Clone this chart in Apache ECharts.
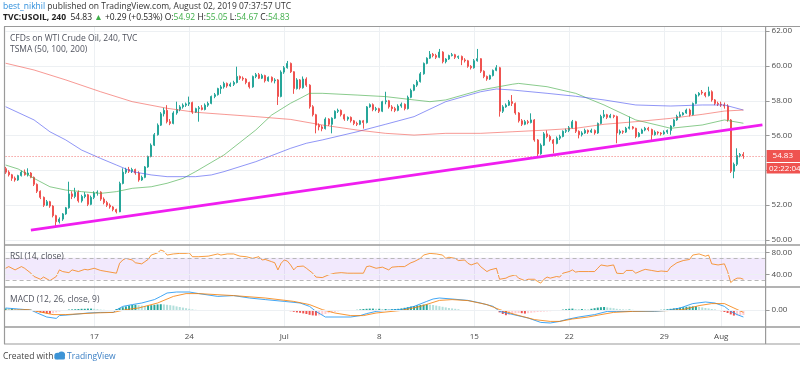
<!DOCTYPE html>
<html>
<head>
<meta charset="utf-8">
<script src="https://cdn.jsdelivr.net/npm/echarts@6.0.0/dist/echarts.min.js"></script>
<style>html,body{margin:0;padding:0;background:#fff;}#c{width:800px;height:368px;}</style>
</head>
<body>
<div id="c"></div>
<script>
// ---------- DATA ----------
const tickIndex = [28, 58, 88, 118, 148, 178, 208, 226];
const tickLabels = ['17', '24', 'Jul', '8', '15', '22', '29', 'Aug'];
const priceTicks = [50, 52, 54, 56, 58, 60, 62];
const rsiTicks = [40, 80];
const macdTicks = [0];
const lastPrice = 54.83;
const countdown = '02:22:04';

// [open, close, low, high] per 4h bar
const candles = [
[54.10,53.90,53.80,54.20],[53.90,53.75,53.65,54.00],[53.75,53.55,53.40,53.80],[53.55,53.45,53.35,53.65],
[53.45,53.70,53.40,53.75],[53.70,53.90,53.65,54.00],[53.90,53.75,53.70,54.05],[53.75,53.85,53.65,54.12],
[53.85,53.60,53.55,53.90],[53.60,53.20,53.10,53.65],[53.20,52.80,52.70,53.25],[52.80,52.45,52.35,52.85],
[52.45,52.00,51.90,52.50],[52.00,52.20,51.95,52.30],[52.20,51.95,51.85,52.25],[51.95,51.40,51.30,52.00],
[51.40,51.05,50.77,51.45],[51.05,51.20,50.95,51.30],[51.20,51.50,51.10,51.55],[51.50,51.85,51.45,51.90],
[51.85,52.65,51.80,53.35],[52.65,52.50,52.35,52.80],[52.50,52.75,52.40,53.00],[52.75,52.25,52.15,52.85],
[52.25,52.50,52.15,52.60],[52.50,52.60,52.40,52.75],[52.60,52.05,51.95,52.65],[52.05,52.45,52.00,52.55],
[52.45,52.70,52.35,52.80],[52.70,52.75,52.55,52.85],[52.75,52.35,52.25,52.80],[52.35,52.15,52.05,52.45],
[52.15,52.00,51.90,52.25],[52.00,51.90,51.80,52.10],[51.90,51.75,51.65,51.95],[51.75,51.62,51.53,51.80],
[51.62,53.25,51.60,53.35],[53.25,53.90,53.20,54.12],[53.90,54.05,53.80,54.15],[54.05,53.95,53.85,54.20],
[53.95,54.05,53.85,54.15],[54.05,53.85,53.75,54.10],[53.85,53.45,53.35,53.95],[53.45,53.60,53.40,53.70],
[53.60,54.20,53.55,54.25],[54.20,54.80,54.15,54.85],[54.80,55.45,54.75,55.55],[55.45,56.05,55.40,56.15],
[56.05,56.60,56.00,56.70],[56.60,57.25,56.55,57.35],[57.25,57.45,57.10,57.60],[57.45,56.80,56.70,57.75],
[56.80,56.70,56.60,56.95],[56.70,57.30,56.65,57.40],[57.30,57.50,57.20,57.95],[57.50,57.65,57.40,57.75],
[57.65,57.75,57.55,57.85],[57.75,57.82,57.65,57.90],[57.82,57.90,57.70,58.24],[57.90,57.35,57.25,57.95],
[57.35,57.55,57.30,57.60],[57.55,57.60,56.80,57.70],[57.60,57.50,57.45,57.75],[57.50,57.75,57.45,57.85],
[57.75,57.85,57.65,57.95],[57.85,58.25,57.80,58.30],[58.25,58.35,58.15,58.45],[58.35,58.70,58.30,58.75],
[58.70,58.80,58.40,58.90],[58.80,59.00,58.70,59.10],[59.00,58.85,58.75,59.05],[58.85,58.95,58.80,59.05],
[58.95,59.05,58.85,59.15],[59.05,59.40,59.00,59.96],[59.40,59.30,59.20,59.45],[59.30,59.25,59.15,59.40],
[59.25,59.05,58.95,59.30],[59.05,58.80,58.70,59.10],[58.80,59.40,58.75,59.45],[59.40,59.50,59.30,59.60],
[59.50,59.30,59.25,59.60],[59.30,59.45,59.25,59.55],[59.45,59.15,59.05,59.50],[59.15,59.35,59.10,59.40],
[59.35,59.15,59.05,59.40],[59.15,59.20,59.00,59.30],[59.20,58.25,57.76,59.25],[58.25,59.65,58.20,59.75],
[59.65,59.90,59.55,60.00],[59.90,60.15,59.85,60.29],[60.15,59.67,59.60,60.20],[59.67,58.70,58.40,59.70],
[58.70,59.20,58.65,59.30],[59.20,58.75,58.65,59.25],[58.75,59.25,58.70,59.40],[59.25,58.90,58.80,59.35],
[58.90,57.66,57.55,58.95],[57.66,57.20,57.10,57.75],[57.20,56.60,56.13,57.25],[56.60,56.50,56.30,56.70],
[56.50,56.40,56.25,56.60],[56.40,56.95,56.35,57.05],[56.95,56.65,56.55,57.00],[56.65,57.00,56.13,57.05],
[57.00,57.40,56.95,57.45],[57.40,57.45,57.30,57.55],[57.45,57.20,57.10,57.50],[57.20,56.95,56.85,57.25],
[56.95,57.05,56.85,57.10],[57.05,56.85,56.75,57.10],[56.85,56.70,56.60,56.90],[56.70,56.65,56.55,56.80],
[56.65,56.85,56.60,56.90],[56.85,56.75,56.40,56.90],[56.75,57.65,56.70,57.70],[57.65,57.78,57.60,57.85],
[57.78,57.50,57.40,57.85],[57.50,57.55,57.40,57.65],[57.55,57.40,57.30,57.60],[57.40,57.95,57.35,58.00],
[57.95,58.00,57.80,58.52],[58.00,57.65,57.55,58.05],[57.65,57.55,57.40,57.75],[57.55,57.45,57.35,57.65],
[57.45,57.70,57.40,57.80],[57.70,57.80,57.60,57.90],[57.80,57.55,57.45,57.85],[57.55,58.20,57.50,58.30],
[58.20,58.60,58.15,58.70],[58.60,58.90,58.55,58.95],[58.90,59.10,58.80,59.20],[59.10,59.55,59.05,59.65],
[59.55,60.15,59.50,60.20],[60.15,60.45,60.10,60.50],[60.45,60.67,60.40,60.86],[60.67,60.60,60.50,60.75],
[60.60,60.50,60.40,60.70],[60.50,60.80,60.45,60.98],[60.80,60.25,60.15,60.85],[60.25,60.40,60.15,60.45],
[60.40,60.60,60.35,60.65],[60.60,60.65,60.55,60.75],[60.65,60.50,60.40,60.70],[60.50,60.55,60.40,60.60],
[60.55,60.35,60.05,60.60],[60.35,60.30,60.20,60.45],[60.30,59.98,59.90,60.35],[59.98,59.90,59.80,60.05],
[59.90,60.30,59.85,60.40],[60.30,60.42,60.25,60.98],[60.42,59.70,59.60,60.45],[59.70,59.40,59.30,59.75],
[59.40,59.25,59.15,59.45],[59.25,59.45,59.20,59.50],[59.45,59.75,59.40,59.80],[59.75,59.90,59.70,60.05],
[59.90,57.40,57.09,59.95],[57.40,57.65,57.30,57.75],[57.65,57.75,57.60,57.85],[57.75,57.95,57.70,58.05],
[57.95,57.85,57.70,58.33],[57.85,57.30,57.20,57.90],[57.30,56.85,56.75,57.35],[56.85,56.65,56.55,56.95],
[56.65,56.80,56.60,56.90],[56.80,56.75,56.65,56.90],[56.75,56.90,56.70,57.28],[56.90,55.75,55.65,56.95],
[55.75,54.95,54.79,55.80],[54.95,55.45,54.90,55.55],[55.45,56.10,55.40,56.20],[56.10,55.95,55.85,56.30],
[55.95,55.75,55.65,56.05],[55.75,55.55,54.98,55.80],[55.55,55.85,55.50,55.95],[55.85,55.95,55.75,56.05],
[55.95,56.25,55.90,56.30],[56.25,56.30,56.15,56.40],[56.30,56.45,56.20,56.55],[56.45,56.80,56.40,56.90],
[56.80,56.25,56.15,56.85],[56.25,56.05,55.84,56.30],[56.05,56.15,55.95,56.25],[56.15,56.30,56.10,56.40],
[56.30,56.20,56.10,56.35],[56.20,56.30,56.15,56.40],[56.30,56.15,56.05,56.35],[56.15,56.70,56.10,56.75],
[56.70,57.10,56.65,57.20],[57.10,57.20,57.00,57.47],[57.20,57.05,56.95,57.25],[57.05,57.15,57.00,57.25],
[57.15,57.10,57.00,57.20],[57.10,56.15,55.56,57.15],[56.15,56.25,56.05,56.35],[56.25,56.20,56.10,56.30],
[56.20,56.42,56.15,56.50],[56.42,56.50,56.35,57.09],[56.50,56.42,56.35,56.55],[56.42,55.95,55.85,56.45],
[55.95,56.13,55.90,56.20],[56.13,56.32,56.10,56.40],[56.32,56.42,56.25,56.50],[56.42,56.35,56.25,56.50],
[56.35,56.05,55.75,56.40],[56.05,56.20,56.00,56.30],[56.20,56.15,56.05,56.25],[56.15,56.10,56.00,56.20],
[56.10,56.20,56.05,56.30],[56.20,56.30,56.10,56.35],[56.30,56.55,56.05,56.60],[56.55,56.90,56.50,56.95],
[56.90,57.10,56.85,57.20],[57.10,57.20,57.05,57.38],[57.20,57.30,57.15,57.35],[57.30,57.47,57.25,57.55],
[57.47,57.20,57.10,57.55],[57.20,57.85,57.15,57.90],[57.85,58.33,57.80,58.40],[58.33,58.43,58.25,58.50],
[58.50,58.45,58.35,58.62],[58.45,58.30,58.20,58.50],[58.30,58.52,58.25,58.81],[58.52,58.05,57.95,58.60],
[58.05,57.85,57.75,58.10],[57.85,57.80,57.70,57.95],[57.80,57.76,57.65,57.95],[57.76,57.70,57.55,57.90],
[57.70,56.90,56.80,57.80],[56.90,53.95,53.85,56.95],[53.95,54.35,53.55,54.45],[54.35,54.85,54.25,55.27],
[54.85,54.92,54.75,55.00],[54.92,54.83,54.67,55.05]
];

// moving averages: [bar index, value]
const sma50 = [[0,54.31],[4,54.08],[9,53.54],[14,53.06],[19,52.87],[24,52.78],[30,52.68],[35,52.78],[40,52.97],[46,53.06],[51,53.26],[56,53.54],[60,53.93],[69,54.89],[79,56.32],[84,57.18],[90,57.86],[93,58.14],[96,58.43],[100,58.43],[111,58.33],[120,58.24],[129,58.05],[134,57.95],[139,58.05],[150,58.62],[160,58.95],[162,59.0],[171,58.81],[180,58.43],[189,57.76],[199,56.90],[208,56.51],[210,56.42],[220,56.61],[227,56.90],[233,56.71]];
const sma100 = [[0,57.66],[9,56.9],[14,56.22],[19,55.75],[24,55.17],[30,54.69],[35,54.31],[40,53.93],[46,53.74],[51,53.64],[60,53.64],[65,53.74],[69,53.93],[79,54.5],[90,55.27],[95,55.56],[100,55.75],[111,56.22],[120,56.65],[129,57.09],[139,57.95],[150,58.52],[155,58.68],[160,58.62],[171,58.43],[180,58.26],[189,58.05],[199,57.76],[210,57.70],[220,57.76],[227,57.76],[233,57.47]];
const sma200 = [[0,60.16],[9,59.77],[19,59.2],[30,58.52],[40,57.95],[51,57.57],[60,57.34],[69,57.22],[79,57.09],[90,56.93],[100,56.61],[111,56.32],[120,56.13],[129,56.03],[139,56.13],[150,56.13],[160,56.22],[171,56.32],[180,56.42],[189,56.65],[199,56.80],[210,56.99],[220,57.22],[227,57.41],[233,57.47]];
const trendLine = [[8,50.57],[239,56.62]];

const rsi = [[0,51],[1,54],[3,48],[5,54],[6,51],[8,42],[9,36],[11,31],[12,35],[14,28.5],[16,36],[17,48],[18,45],[20,43],[21,48],[23,45],[25,49],[26,48],[28,51],[30,47],[32,45],[35,42],[36,60],[37,66],[38,69],[40,66],[41,61],[43,59],[44,63],[45,67],[46,75],[48,79],[49,84],[50,82],[51,75],[53,77],[55,78],[57,78],[58,79],[59,72],[61,72],[64,73],[67,77],[68,75],[70,77],[72,77],[74,73],[76,72],[78,69],[80,72],[81,66],[82,67],[84,63],[85,61],[86,48],[87,60],[88,66],[89,64],[90,57],[91,48],[92,54],[94,55],[95,51],[97,42],[98,35],[100,34],[102,39],[104,42],[106,43],[108,42],[110,42],[113,42],[114,54],[115,55],[117,51],[119,53],[121,48],[122,53],[124,54],[126,54],[128,61],[129,63],[131,69],[132,75],[134,78],[136,77],[138,75],[139,69],[140,71],[142,69],[143,65],[145,66],[146,60],[147,57],[149,61],[150,54],[152,45],[153,48],[155,51],[156,31],[158,33],[159,36],[161,39],[162,33],[164,28.5],[165,31],[167,31],[168,27],[169,24],[170,31],[171,35],[172,33],[174,36],[175,35],[176,42],[178,45],[179,48],[180,44],[181,45],[184,45],[186,45],[187,51],[188,57],[190,55],[192,57],[193,42],[195,41],[196,47],[198,47],[199,42],[201,47],[202,49],[204,47],[206,45],[207,46],[209,45],[210,53],[212,61],[214,65],[216,67],[217,75],[219,77],[220,75],[221,73],[222,75],[223,59],[225,57],[227,59],[228,45],[229,25],[230,30],[231,33],[232,33],[233,31]];

const macdLine = [[0,0.10],[4,0.05],[8,0.0],[10,-0.15],[13,-0.35],[16,-0.42],[17,-0.28],[21,-0.23],[26,-0.15],[30,-0.12],[34,-0.12],[35,0.0],[37,0.18],[40,0.27],[43,0.35],[47,0.52],[49,0.68],[51,0.85],[54,0.9],[58,0.9],[61,0.82],[67,0.68],[72,0.72],[77,0.6],[82,0.52],[88,0.43],[93,0.35],[96,0.18],[98,-0.07],[101,-0.35],[104,-0.35],[109,-0.35],[112,-0.28],[114,-0.18],[117,-0.07],[120,-0.02],[125,0.02],[129,0.18],[133,0.43],[135,0.55],[137,0.6],[141,0.55],[146,0.48],[150,0.35],[154,0.18],[156,-0.07],[159,-0.18],[165,-0.4],[169,-0.62],[172,-0.65],[175,-0.57],[177,-0.48],[181,-0.35],[186,-0.23],[190,-0.07],[193,-0.07],[198,-0.07],[205,-0.07],[209,-0.02],[213,0.1],[217,0.32],[221,0.4],[224,0.35],[227,0.18],[229,-0.07],[231,-0.23],[233,-0.35]];
const signalLine = [[0,-0.02],[7,0.02],[10,-0.07],[15,-0.23],[19,-0.23],[28,-0.15],[34,-0.12],[38,0.02],[42,0.1],[48,0.35],[53,0.68],[57,0.82],[61,0.82],[72,0.72],[82,0.6],[91,0.43],[96,0.27],[100,0.02],[104,-0.15],[109,-0.28],[113,-0.28],[117,-0.15],[125,-0.02],[131,0.18],[137,0.48],[141,0.52],[146,0.47],[152,0.27],[156,0.02],[161,-0.23],[167,-0.48],[172,-0.57],[175,-0.57],[179,-0.45],[184,-0.35],[188,-0.23],[192,-0.12],[198,-0.07],[209,-0.03],[214,0.02],[219,0.22],[223,0.32],[227,0.32],[230,0.1],[233,-0.12]];
const macdHist = [
0.08,0.07,0.07,0.06,0.05,0.04,0.03,0.02,0.01,
-0.04,-0.08,-0.12,-0.15,-0.17,-0.18,-0.16,
-0.12,-0.08,-0.05,-0.02,
0.02,0.03,0.04,0.05,0.06,0.06,0.07,0.07,0.06,
0.04,0.02,0.01,-0.01,-0.02,-0.01,
0.05,0.10,0.14,0.18,0.22,0.25,0.26,0.24,0.22,0.20,0.21,0.24,
0.26,0.28,0.29,0.28,0.26,0.24,0.22,
0.18,0.15,0.12,0.09,0.06,0.03,0.01,
-0.01,-0.02,-0.03,-0.03,-0.02,-0.02,-0.01,-0.01,
-0.01,-0.01,0.0,0.0,-0.01,
-0.03,-0.04,-0.04,-0.03,-0.02,
-0.01,-0.01,-0.01,
-0.03,-0.04,-0.04,-0.03,-0.05,
-0.04,-0.03,-0.04,
-0.06,-0.09,-0.12,-0.14,-0.17,-0.20,-0.24,-0.27,-0.28,-0.27,
-0.24,-0.20,-0.16,-0.13,-0.10,-0.07,-0.05,-0.03,-0.02,
-0.01,0.0,0.01,
0.03,0.05,0.06,0.07,0.07,0.06,0.06,0.05,0.05,0.04,0.04,0.05,0.06,
0.08,0.11,0.14,0.17,0.20,0.23,0.25,0.27,0.28,0.27,0.25,
0.22,0.19,0.16,0.13,0.10,0.08,0.06,0.04,
-0.01,-0.02,-0.03,-0.03,-0.04,-0.05,-0.05,-0.04,-0.03,-0.03,-0.04,-0.05,
-0.12,-0.20,-0.26,-0.25,
-0.20,-0.17,-0.15,
-0.16,-0.18,-0.16,
-0.14,-0.12,-0.10,-0.09,-0.08,-0.07,-0.06,-0.05,-0.04,-0.03,
0.02,0.04,0.06,0.07,0.05,0.04,0.05,0.04,0.03,
0.06,0.09,0.12,0.14,0.15,0.13,
0.11,0.09,0.06,0.04,0.03,
0.02,0.02,0.01,
-0.01,-0.02,-0.02,-0.01,0.0,-0.01,-0.02,-0.01,0.01,0.02,
0.04,0.06,0.08,0.10,0.12,0.14,0.16,0.17,0.18,0.18,
0.16,0.13,0.10,0.08,0.05,0.03,
-0.03,-0.06,-0.10,-0.15,-0.22,-0.28,-0.27,-0.26,-0.25
];

// ---------- CHART ----------
const FONT = '"Open Sans", "Liberation Sans", sans-serif';
const UP = '#26a69a', DOWN = '#ef5350';
const gridColor = '#edf0f3';
const frameColor = '#9a9a9a';
const N = 241;
const categories = Array.from({length: N}, (_, i) => String(i));
const labelAt = {};
tickIndex.forEach((t, k) => { labelAt[t] = tickLabels[k]; });
const isTick = (idx) => labelAt[idx] !== undefined;

const histData = macdHist.map((v, i) => {
  const prev = i > 0 ? macdHist[i - 1] : v;
  let c;
  if (v >= 0) c = v >= prev ? UP : '#b2dfdb';
  else c = v < prev ? DOWN : '#ffcdd2';
  return { value: [i, v], itemStyle: { color: c } };
});

const chart = echarts.init(document.getElementById('c'), null, { renderer: 'canvas' });

function xAxisFor(gi, showLabel) {
  return {
    type: 'category', gridIndex: gi, data: categories, boundaryGap: false,
    axisLine: { show: false }, axisTick: { show: false },
    axisLabel: showLabel ? {
      show: true, interval: (i) => isTick(i), formatter: (v, i) => labelAt[i] || '',
      color: '#4a4a4a', fontSize: 8, fontFamily: FONT, margin: 6
    } : { show: false },
    splitLine: { show: true, interval: (i) => isTick(i), lineStyle: { color: gridColor, width: 1 } }
  };
}
const axisLabelStyle = { color: '#4a4a4a', fontSize: 8, fontFamily: FONT, margin: 6 };

chart.setOption({
  animation: false,
  backgroundColor: '#ffffff',
  grid: [
    { left: 5.58, width: 760, top: 27, height: 213 },
    { left: 5.58, width: 760, top: 241.3, height: 55 },
    { left: 5.58, width: 760, top: 287, height: 40 }
  ],
  xAxis: [xAxisFor(0, false), xAxisFor(1, false), xAxisFor(2, true)],
  yAxis: [
    { type: 'value', gridIndex: 0, position: 'right', min: 50, max: 62.2414, interval: 2,
      axisLine: { show: false },
      axisTick: { show: true, length: 4, lineStyle: { color: '#999' }, customValues: priceTicks },
      axisLabel: Object.assign({}, axisLabelStyle, { customValues: priceTicks,
        formatter: (v) => priceTicks.indexOf(v) >= 0 ? v.toFixed(2) : '' }),
      splitLine: { show: true, lineStyle: { color: gridColor } } },
    { type: 'value', gridIndex: 1, position: 'right', min: 0, max: 100, interval: 20,
      axisLine: { show: false },
      axisTick: { show: true, length: 4, lineStyle: { color: '#999' }, customValues: rsiTicks },
      axisLabel: Object.assign({}, axisLabelStyle, { customValues: rsiTicks,
        formatter: (v) => rsiTicks.indexOf(v) >= 0 ? v.toFixed(2) : '' }),
      splitLine: { show: false } },
    { type: 'value', gridIndex: 2, position: 'right', min: -0.85, max: 1.15, interval: 0.85,
      axisLine: { show: false },
      axisTick: { show: true, length: 4, lineStyle: { color: '#999' }, customValues: macdTicks },
      axisLabel: Object.assign({}, axisLabelStyle, { customValues: macdTicks,
        formatter: (v) => Math.abs(v) < 1e-9 ? '0.00' : '' }),
      splitLine: { show: false } }
  ],
  series: [
    { type: 'candlestick', name: 'USOIL', xAxisIndex: 0, yAxisIndex: 0, data: candles,
      barWidth: 1.5, clip: false, z: 3,
      itemStyle: { color: UP, color0: DOWN, borderColor: UP, borderColor0: DOWN, borderWidth: 1 },
      markLine: {
        silent: true, symbol: 'none', animation: false,
        data: [{ yAxis: lastPrice }],
        lineStyle: { color: 'rgba(239,83,80,0.8)', type: [1, 2], width: 1 },
        label: { show: true, position: 'end', formatter: lastPrice.toFixed(2), distance: 1,
          backgroundColor: DOWN, color: '#fff', fontSize: 8, fontFamily: FONT,
          padding: [2, 8, 2, 6], lineHeight: 8 }
      } },
    { type: 'line', name: 'SMA50', xAxisIndex: 0, yAxisIndex: 0, data: sma50, showSymbol: false,
      lineStyle: { color: 'rgba(76,175,80,0.65)', width: 1 }, z: 4 },
    { type: 'line', name: 'SMA100', xAxisIndex: 0, yAxisIndex: 0, data: sma100, showSymbol: false,
      lineStyle: { color: 'rgba(70,80,240,0.6)', width: 1 }, z: 4 },
    { type: 'line', name: 'SMA200', xAxisIndex: 0, yAxisIndex: 0, data: sma200, showSymbol: false,
      lineStyle: { color: 'rgba(240,70,60,0.55)', width: 1 }, z: 4 },
    { type: 'line', name: 'Trend', xAxisIndex: 0, yAxisIndex: 0, data: trendLine, showSymbol: false,
      lineStyle: { color: '#f01ef0', width: 2.7 }, z: 5 },
    { type: 'line', name: 'RSI', xAxisIndex: 1, yAxisIndex: 1, data: rsi, showSymbol: false,
      lineStyle: { color: 'rgba(245,124,0,0.75)', width: 1 }, z: 4,
      markArea: { silent: true, itemStyle: { color: 'rgba(150,70,235,0.12)' },
        data: [[{ yAxis: 30 }, { yAxis: 70 }]] },
      markLine: { silent: true, symbol: 'none', label: { show: false },
        data: [
          { yAxis: 80, lineStyle: { color: gridColor, type: 'solid', width: 1 } },
          { yAxis: 40, lineStyle: { color: gridColor, type: 'solid', width: 1 } },
          { yAxis: 70, lineStyle: { color: '#b8b8b8', type: [4, 3], width: 1 } },
          { yAxis: 30, lineStyle: { color: '#b8b8b8', type: [4, 3], width: 1 } }
        ] } },
    { type: 'bar', name: 'Histogram', xAxisIndex: 2, yAxisIndex: 2, data: histData,
      barWidth: 2, z: 3 },
    { type: 'line', name: 'MACD', xAxisIndex: 2, yAxisIndex: 2, data: macdLine, showSymbol: false,
      lineStyle: { color: 'rgba(33,150,243,0.85)', width: 1 }, z: 4,
      markLine: { silent: true, symbol: 'none', label: { show: false },
        data: [{ yAxis: 0, lineStyle: { color: gridColor, type: 'solid', width: 1 } }] } },
    { type: 'line', name: 'Signal', xAxisIndex: 2, yAxisIndex: 2, data: signalLine, showSymbol: false,
      lineStyle: { color: 'rgba(245,124,0,0.8)', width: 1 }, z: 4 }
  ]
});

// ---------- DECORATION (text, frame) ----------
const py = chart.convertToPixel({ yAxisIndex: 0 }, lastPrice);
function hline(y, x1, x2, w) {
  return { type: 'line', silent: true, z: 100, shape: { x1: x1, y1: y, x2: x2, y2: y },
    style: { stroke: frameColor, lineWidth: w || 1.5 } };
}
function vline(x, y1, y2, w) {
  return { type: 'line', silent: true, z: 100, shape: { x1: x, y1: y1, x2: x, y2: y2 },
    style: { stroke: frameColor, lineWidth: w || 1.5 } };
}
function label(x, y, text, opts, z) {
  return { type: 'text', silent: true, z: z || 110, x: x, y: y,
    style: Object.assign({ text: text, fill: '#50535e', fontSize: 8.5, fontFamily: FONT,
      verticalAlign: 'middle', align: 'left' }, opts || {}) };
}
const base = { fontSize: 8.5, fontFamily: FONT };
const green = '#3fae49';
chart.setOption({
  graphic: { elements: [
    { type: 'text', silent: true, x: 3, y: 6.5, style: {
      text: '{u|best_nikhil}{t| published on TradingView.com, August 02, 2019 07:37:57 UTC}',
      verticalAlign: 'middle', fontSize: 8.5, fontFamily: FONT,
      rich: { u: Object.assign({ fill: '#2f8fdc' }, base), t: Object.assign({ fill: '#333' }, base) } } },
    { type: 'text', silent: true, x: 3, y: 17.5, style: {
      text: '{b|TVC:USOIL, 240}{t|  54.83 }{g|▲}{t| +0.29 (+0.53%) }{t|O:}{g|54.92}{t| H:}{g|55.05}{t| L:}{g|54.67}{t| C:}{g|54.83}',
      verticalAlign: 'middle', fontSize: 8.5, fontFamily: FONT,
      rich: { b: Object.assign({ fill: '#222', fontWeight: 'bold' }, base),
              t: Object.assign({ fill: '#222' }, base),
              g: Object.assign({ fill: green }, base) } } },
    label(10, 38.5, 'CFDs on WTI Crude Oil, 240, TVC'),
    label(10, 49.5, 'TSMA (50, 100, 200)'),
    label(10, 256.5, 'RSI (14, close)'),
    label(10, 299.5, 'MACD (12, 26, close, 9)'),
    // frame
    hline(26.5, 4, 800, 1),
    vline(4.5, 26.5, 344, 1.2),
    vline(765.6, 26.5, 344, 1.2),
    hline(245, 4, 800),
    hline(287, 4, 800),
    hline(327, 4, 800),
    hline(344, 4, 800, 1.2),
    // countdown box
    { type: 'rect', silent: true, z: 120, shape: { x: 766.6, y: py + 7, width: 34, height: 10.5 },
      style: { fill: DOWN } },
    label(769, py + 12.3, countdown, { fill: '#fff', fontSize: 8 }, 130),
    // footer
    label(3, 357, 'Created with', { fill: '#444', fontSize: 8.5 }),
    { type: 'circle', silent: true, shape: { cx: 57.5, cy: 356, r: 3.2 }, style: { fill: '#3d94d6' } },
    { type: 'circle', silent: true, shape: { cx: 61.5, cy: 355, r: 3.6 }, style: { fill: '#3d94d6' } },
    { type: 'rect', silent: true, shape: { x: 54.5, y: 356, width: 10.5, height: 3.4, r: 1.5 }, style: { fill: '#3d94d6' } },
    label(67, 357, 'TradingView', { fill: '#3a7fc4', fontSize: 8.5 })
  ] }
});
</script>
</body>
</html>
